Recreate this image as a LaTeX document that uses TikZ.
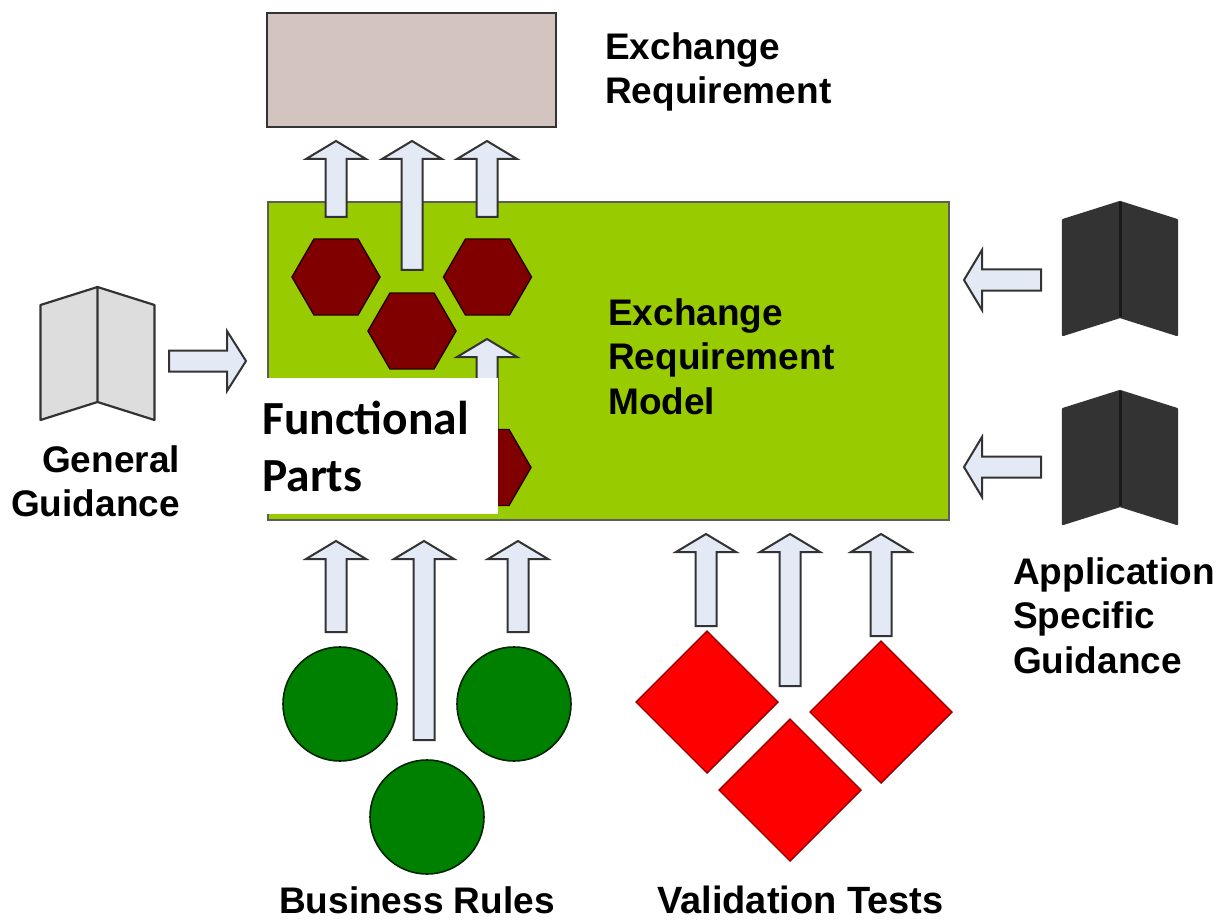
\documentclass[tikz,border=0pt]{standalone}
\usepackage{fontspec}
\setmainfont{Liberation Sans}
\newfontfamily\carlito{Carlito}
\definecolor{arrowfill}{HTML}{E3EAF5}
\definecolor{greenbox}{HTML}{99CC00}
\definecolor{hexfill}{HTML}{800000}
\definecolor{topbox}{HTML}{D3C4C0}
\definecolor{edgegrey}{HTML}{333333}
\definecolor{lightbook}{HTML}{DDDDDD}
\definecolor{darkbook}{HTML}{333333}
\definecolor{circlefill}{HTML}{008000}
\tikzset{
  x=1pt,y=-1pt,
  blockarrow/.style={draw=edgegrey,fill=arrowfill,line width=2pt,line join=miter},
  hexshape/.style={draw=black!70!hexfill,fill=hexfill,line width=1.4pt},
  ballshape/.style={draw=black!70!circlefill,fill=circlefill,line width=1.6pt},
  diamondshape/.style={draw=red!60!black,fill=red,line width=1.4pt},
  panel/.style={draw=edgegrey,line width=2.2pt,line join=round},
  lbl/.style={font=\bfseries\fontsize{37}{44}\selectfont,text=black,inner sep=0pt,anchor=base west,align=left},
  lblw/.style={lbl,font=\bfseries\fontsize{38}{44}\selectfont},
  funcl/.style={inner sep=0pt,anchor=base west,text=black,font=\carlito\bfseries\fontsize{47.5}{58}\selectfont},
}
% centre x, tip y, bottom y
\newcommand{\uparrowshape}[3]{\draw[blockarrow] (#1-10.5,#3) -- (#1-10.5,#2+18) -- (#1-30,#2+18) -- (#1,#2) -- (#1+30,#2+18) -- (#1+10.5,#2+18) -- (#1+10.5,#3) -- cycle;}
% tip x, centre y, tail x
\newcommand{\leftarrowshape}[3]{\draw[blockarrow] (#3,#2-10.5) -- (#1+18,#2-10.5) -- (#1+18,#2-30) -- (#1,#2) -- (#1+18,#2+30) -- (#1+18,#2+10.5) -- (#3,#2+10.5) -- cycle;}
\newcommand{\hexshapeat}[2]{\draw[hexshape] (#1-44,#2) -- (#1-22,#2-38) -- (#1+22,#2-38) -- (#1+44,#2) -- (#1+22,#2+38) -- (#1-22,#2+38) -- cycle;}
\newcommand{\diamondat}[2]{\draw[diamondshape] (#1-71,#2) -- (#1,#2-71) -- (#1+71,#2) -- (#1,#2+71) -- cycle;}
\newcommand{\bookat}[4]{\path[fill=#3] (#1-57,#2+18) -- (#1,#2) -- (#1+57,#2+18) -- (#1+57,#2+133) -- (#1,#2+115) -- (#1-57,#2+133) -- cycle;
  \draw[panel,draw=#4] (#1-57,#2+18) -- (#1,#2) -- (#1+57,#2+18) -- (#1+57,#2+133) -- (#1,#2+115) -- (#1-57,#2+133) -- cycle (#1,#2) -- (#1,#2+115);}
\begin{document}
\begin{tikzpicture}
\useasboundingbox (0,0) rectangle (1224,920);
\fill[white] (0,0) rectangle (1224,920);
% boxes
\draw[fill=topbox,draw=edgegrey,line width=1.8pt] (267,13) rectangle (556,127);
\draw[fill=greenbox,draw=edgegrey!80,line width=2pt] (268,202) rectangle (949,520);
% arrows to the top box
\uparrowshape{336}{141}{217}
\uparrowshape{412}{141}{270}
\uparrowshape{487}{141}{217}
% hexagons
\hexshapeat{336}{277}
\hexshapeat{412}{331}
\hexshapeat{487.5}{277}
\uparrowshape{487}{339}{440}
\hexshapeat{487}{467.5}
% white patch
\fill[white] (267,378) rectangle (498,514);
\node[funcl] (fp1) at (262,434) {Functional};
\node[funcl] (fp2) at (262,491) {Parts};
% general guidance
\bookat{97.5}{287}{lightbook}{edgegrey}
\draw[blockarrow] (169,350.5) -- (227,350.5) -- (227,331) -- (246,361) -- (227,391) -- (227,371.5) -- (169,371.5) -- cycle;
\node[lbl] (gg1) at (42,472) {General};
\node[lbl] (gg2) at (11,516) {Guidance};
% application specific guidance
\leftarrowshape{964}{280}{1041}
\leftarrowshape{964}{467}{1041}
\bookat{1120}{202}{darkbook}{darkbook}
\bookat{1120}{391}{darkbook}{darkbook}
\draw[line width=3pt,draw=black!90] (1120,202) -- (1120,317);
\draw[line width=3pt,draw=black!90] (1120,391) -- (1120,506);
\node[lbl] (as1) at (1013,584) {Application};
\node[lbl] (as2) at (1013,628) {Specific};
\node[lbl] (as3) at (1013,673) {Guidance};
% business rules
\uparrowshape{336}{541}{632}
\uparrowshape{424}{541}{740}
\uparrowshape{518}{541}{632}
\draw[ballshape] (340,704) circle (57);
\draw[ballshape] (514,704) circle (57);
\draw[ballshape] (427,817) circle (57);
% validation tests
\uparrowshape{706}{534}{626}
\uparrowshape{790}{534}{686}
\uparrowshape{881}{534}{636}
\diamondat{707}{702}
\diamondat{881}{712}
\diamondat{790}{790}
% labels
\node[lbl] (er1) at (605,60) {Exchange};
\node[lbl] (er2) at (605,104) {Requirement};
\node[lbl] (erm1) at (608,325) {Exchange};
\node[lbl] (erm2) at (608,369) {Requirement};
\node[lbl] (erm3) at (608,414) {Model};
\node[lbl] (br) at (279,913) {Business Rules};
\node[lblw] (vt) at (657,913) {Validation Tests};
\end{tikzpicture}
\end{document}
